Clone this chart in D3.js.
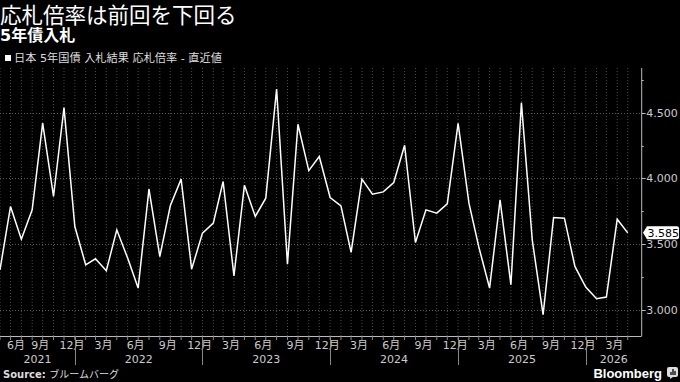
<!DOCTYPE html>
<html><head><meta charset="utf-8">
<script src="https://cdn.jsdelivr.net/npm/d3@7"></script>
<style>
html,body{margin:0;padding:0;background:#000;}
svg{display:block;}
</style></head>
<body>
<svg id="c" width="680" height="382"></svg>
<script>
// ---- data ----
const title = "応札倍率は前回を下回る";
const subtitle = "5年債入札";
const legendLabel = "日本 5年国債 入札結果 応札倍率 - 直近値";
const startMonth = "2021-06";
const values = [
  3.304, 3.785, 3.537, 3.760, 4.420, 3.862, 4.538,                         // 2021 Jun-Dec
  3.633, 3.342, 3.388, 3.297, 3.608, 3.393, 3.165, 3.918, 3.405, 3.791, 3.994, 3.309, // 2022
  3.583, 3.659, 3.976, 3.258, 3.948, 3.710, 3.849, 4.680, 3.347, 4.412, 4.059, 4.166, // 2023
  3.854, 3.791, 3.436, 3.994, 3.879, 3.897, 3.968, 4.252, 3.512, 3.760, 3.735, 3.806, // 2024
  4.419, 3.811, 3.480, 3.165, 3.836, 3.190, 4.576, 3.532, 2.962, 3.702, 3.697, 3.330, // 2025
  3.173, 3.084, 3.097, 3.689, 3.585                                          // 2026 Jan-May
];
const lastValueLabel = "3.585";
const yTicks = [3.0, 3.5, 4.0, 4.5];
const yMinorTicks = [3.25, 3.75, 4.25, 4.75];
const monthLabels = ["1月","2月","3月","4月","5月","6月","7月","8月","9月","10月","11月","12月"];
const years = [2021, 2022, 2023, 2024, 2025, 2026];
const sourceText = "ブルームバーグ";

// ---- layout ----
const svg = d3.select("#c");
const plotL = 0, plotR = 641.7, plotT = 68, plotB = 336;
const parse = d3.timeParse("%Y-%m");
const start = parse(startMonth);
const dates = values.map((v, i) => d3.timeMonth.offset(start, i));
const xEnd = d3.timeDay.offset(d3.timeMonth.offset(start, 60), 9);

const x = d3.scaleTime().domain([start, xEnd]).range([plotL, plotR]);
const y = d3.scaleLinear().domain([2.8, 4.84]).range([plotB, plotT]);

const tickFont = "'DejaVu Sans','Noto Sans CJK JP',sans-serif";

// title
svg.append("text").attr("x", 0).attr("y", 23)
  .attr("fill", "#fff").style("font-family", "'Noto Sans CJK JP',sans-serif")
  .style("font-size", "21.5px").text(title);
svg.append("text").attr("x", 0).attr("y", 41)
  .attr("fill", "#fff").style("font-family", "'DejaVu Sans','Noto Sans CJK JP',sans-serif")
  .style("font-size", "16px").style("font-weight", "bold").text(subtitle);

// legend
svg.append("rect").attr("x", 5).attr("y", 55).attr("width", 6).attr("height", 6).attr("fill", "#fff");
svg.append("text").attr("x", 14).attr("y", 62)
  .attr("fill", "#ddd").style("font-family", tickFont)
  .style("font-size", "11.2px").text(legendLabel);

// month gridlines
const months = d3.timeMonth.range(start, d3.timeMonth.offset(start, 60));
svg.append("g").selectAll("line").data(months).join("line")
  .attr("x1", d => x(d)).attr("x2", d => x(d))
  .attr("y1", plotT).attr("y2", plotB)
  .attr("stroke", "#4a4a4a").attr("stroke-width", 1)
  .attr("stroke-dasharray", "1,2");

// horizontal gridlines
svg.append("g").selectAll("line").data(yTicks).join("line")
  .attr("x1", plotL).attr("x2", plotR)
  .attr("y1", d => Math.round(y(d)) + 0.5).attr("y2", d => Math.round(y(d)) + 0.5)
  .attr("stroke", "#5a5a5a").attr("stroke-width", 1)
  .attr("stroke-dasharray", "1,2");

// right axis
const yAxisG = svg.append("g").attr("transform", `translate(${plotR},0)`);
yAxisG.append("line").attr("x1", 0).attr("x2", 0).attr("y1", plotT).attr("y2", plotB)
  .attr("stroke", "#bbb").attr("stroke-width", 1);
yAxisG.selectAll(".maj").data(yTicks).join("line").attr("class", "maj")
  .attr("x1", 0).attr("x2", 4).attr("y1", d => Math.round(y(d)) + 0.5).attr("y2", d => Math.round(y(d)) + 0.5)
  .attr("stroke", "#bbb");
yAxisG.selectAll(".min").data(yMinorTicks).join("line").attr("class", "min")
  .attr("x1", 0).attr("x2", 2).attr("y1", d => Math.round(y(d)) + 0.5).attr("y2", d => Math.round(y(d)) + 0.5)
  .attr("stroke", "#bbb");
yAxisG.selectAll("text").data(yTicks).join("text")
  .attr("x", 4.5).attr("y", d => y(d)).attr("dy", "0.36em")
  .attr("fill", "#ccc").style("font-family", tickFont).style("font-size", "11px")
  .text(d => d3.format(".3f")(d));

// bottom axis
svg.append("line").attr("x1", plotL).attr("x2", plotR)
  .attr("y1", plotB + 0.5).attr("y2", plotB + 0.5).attr("stroke", "#bbb");
svg.append("g").selectAll("line").data(months).join("line")
  .attr("x1", d => x(d)).attr("x2", d => x(d))
  .attr("y1", plotB).attr("y2", plotB + 4)
  .attr("stroke", "#888");

// month labels every 3 months
const labelMonths = months.filter(d => d.getMonth() % 3 === 2);
const ml = svg.append("g").selectAll("text").data(labelMonths).join("text")
  .attr("x", d => x(d) + 8).attr("y", 349)
  .attr("text-anchor", "middle")
  .attr("fill", "#ccc").style("font-family", tickFont).style("font-size", "11px")
  .text(d => monthLabels[d.getMonth()]);
ml.each(function() {
  const w = this.getComputedTextLength();
  const cx = +this.getAttribute("x");
  if (cx - w / 2 < 7) this.setAttribute("x", 7 + w / 2);
});

// year separators and labels
const yearStarts = years.slice(1).map(yr => new Date(yr, 0, 1));
svg.append("g").selectAll("line").data(yearStarts).join("line")
  .attr("x1", d => Math.round(x(d)) + 0.5).attr("x2", d => Math.round(x(d)) + 0.5)
  .attr("y1", plotB).attr("y2", 365)
  .attr("stroke", "#888");
svg.append("g").selectAll("text").data(years).join("text")
  .attr("x", yr => {
    const a = Math.max(x(new Date(yr, 0, 1)), plotL);
    const b = Math.min(x(new Date(yr + 1, 0, 1)), plotR);
    return (a + b) / 2;
  })
  .attr("y", 363).attr("text-anchor", "middle")
  .attr("fill", "#ccc").style("font-family", tickFont).style("font-size", "11px")
  .text(yr => yr);

// line
const line = d3.line().x((d, i) => x(dates[i])).y(d => y(d));
svg.append("path").datum(values)
  .attr("d", line).attr("fill", "none")
  .attr("stroke", "#fff").attr("stroke-width", 1.5)
  .attr("stroke-linejoin", "miter");

// last value label
const lv = values[values.length - 1];
const ly = y(lv);
const bx = 643, bw = 36, bh = 13;
svg.append("path")
  .attr("d", `M${bx},${ly} L${bx + 4},${ly - bh / 2} L${bx + bw - 2},${ly - bh / 2} Q${bx + bw},${ly - bh / 2} ${bx + bw},${ly - bh / 2 + 2} L${bx + bw},${ly + bh / 2 - 2} Q${bx + bw},${ly + bh / 2} ${bx + bw - 2},${ly + bh / 2} L${bx + 4},${ly + bh / 2} Z`)
  .attr("fill", "#fff");
svg.append("text").attr("x", bx + 4.5).attr("y", ly).attr("dy", "0.36em")
  .attr("fill", "#000").style("font-family", tickFont).style("font-size", "11px")
  .text(lastValueLabel);

// footer
const src = svg.append("text").attr("x", 3).attr("y", 378)
  .attr("fill", "#ddd").style("font-family", tickFont).style("font-size", "10px");
src.append("tspan").style("font-weight", "bold").text("Source: ");
src.append("tspan").style("font-family", "'Noto Sans CJK JP',sans-serif").text(sourceText);

svg.append("text").attr("x", 662).attr("y", 378).attr("text-anchor", "end")
  .attr("fill", "#fff").style("font-family", "'Liberation Sans',Arial,sans-serif")
  .style("font-size", "13px").style("font-weight", "bold").text("Bloomberg");
const ic = svg.append("g").attr("transform", "translate(667,367)");
ic.append("rect").attr("width", 11).attr("height", 10).attr("rx", 2).attr("fill", "#ddd");
ic.append("path").attr("d", "M4,8 V5 M6,8 V2 M8,8 V4").attr("stroke", "#000").attr("stroke-width", 1.3);
ic.append("path").attr("d", "M3,10 L3,12 L6,10 Z").attr("fill", "#ddd");
</script>
</body></html>
